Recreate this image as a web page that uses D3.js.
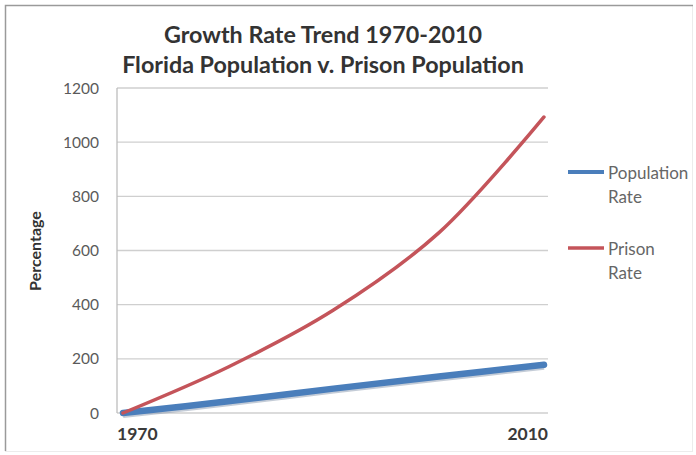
<!DOCTYPE html>
<html>
<head>
<meta charset="utf-8">
<script src="https://cdn.jsdelivr.net/npm/d3@7"></script>
<style>
  body { margin: 0; background: #fff; }
  svg { display: block; }
</style>
</head>
<body>
<div class="graph-container"></div>
<script>
// Data
const years = [1970, 1980, 1990, 2000, 2010];
const populationRate = [0, 43, 90, 135, 178];
const prisonRate = [0, 170, 380, 665, 1093];
const yTicks = [0, 200, 400, 600, 800, 1000, 1200];
const xLabels = ['1970', '2010'];
const titleLines = ['Growth Rate Trend 1970-2010', 'Florida Population v. Prison Population'];

const W = 696, H = 455;
const font = 'Lato, "Open Sans", sans-serif';
const svg = d3.select('.graph-container')
    .append('svg')
    .attr('width', W)
    .attr('height', H);

// Chart frame
svg.append('rect')
    .attr('x', 5.5).attr('y', 5.5)
    .attr('width', 687).attr('height', 446)
    .attr('fill', '#fff')
    .attr('stroke', '#ececec');
svg.append('path')
    .attr('d', 'M5.5,451 V5.5 H693')
    .attr('fill', 'none')
    .attr('stroke', '#9a9a9a')
    .attr('stroke-width', 1.5);

// Scales
const plotLeft = 117, plotRight = 548;
const x = d3.scaleLinear().domain([1970, 2010]).range([123, 544]);
const y = d3.scaleLinear().domain([0, 1200]).range([413, 88]);

// Gridlines
svg.append('g')
    .selectAll('line')
    .data(yTicks)
    .join('line')
    .attr('x1', plotLeft).attr('x2', plotRight)
    .attr('y1', d => y(d)).attr('y2', d => y(d))
    .attr('stroke', '#cfcfcf')
    .attr('stroke-width', 1.3);

// Y axis line
svg.append('line')
    .attr('x1', plotLeft).attr('x2', plotLeft)
    .attr('y1', y(1200)).attr('y2', y(0))
    .attr('stroke', '#bdbdbd')
    .attr('stroke-width', 1.3);

// Y tick labels
svg.append('g')
    .selectAll('text')
    .data(yTicks)
    .join('text')
    .attr('x', 99)
    .attr('y', d => y(d) + 5.5)
    .attr('text-anchor', 'end')
    .attr('font-family', font)
    .attr('font-size', 15.5)
    .attr('fill', '#5a5a5a')
    .text(d => d);

// Y axis title
svg.append('text')
    .attr('transform', 'translate(41,251) rotate(-90)')
    .attr('text-anchor', 'middle')
    .attr('font-family', font)
    .attr('font-weight', 'bold')
    .attr('font-size', 16)
    .attr('fill', '#333')
    .text('Percentage');

// X labels at both ends of the axis
svg.append('g')
    .selectAll('text')
    .data(xLabels)
    .join('text')
    .attr('x', (d, i) => i === 0 ? plotLeft : plotRight)
    .attr('y', 440)
    .attr('text-anchor', (d, i) => i === 0 ? 'start' : 'end')
    .attr('font-family', font)
    .attr('font-weight', 'bold')
    .attr('font-size', 17.5)
    .attr('fill', '#3a3a3a')
    .text(d => d);

// Title
svg.append('g')
    .selectAll('text')
    .data(titleLines)
    .join('text')
    .attr('x', 323)
    .attr('y', (d, i) => 43 + i * 30)
    .attr('text-anchor', 'middle')
    .attr('font-family', font)
    .attr('font-weight', 'bold')
    .attr('font-size', 23.3)
    .attr('fill', '#333')
    .text(d => d);

// Lines
const line = d3.line()
    .x((d, i) => x(years[i]))
    .y(d => y(d))
    .curve(d3.curveCatmullRom.alpha(0.5));

svg.append('path')
    .datum(populationRate)
    .attr('fill', 'none')
    .attr('stroke', '#8a9ab0')
    .attr('stroke-opacity', 0.5)
    .attr('stroke-width', 7)
    .attr('transform', 'translate(0,1.5)')
    .attr('d', line);
svg.append('path')
    .datum(populationRate)
    .attr('fill', 'none')
    .attr('stroke', '#4a7ebb')
    .attr('stroke-width', 6.5)
    .attr('stroke-linecap', 'round')
    .attr('d', line);

svg.append('path')
    .datum(prisonRate)
    .attr('fill', 'none')
    .attr('stroke', '#c4545a')
    .attr('stroke-width', 3.5)
    .attr('stroke-linecap', 'round')
    .attr('d', line);

// Legend
const legend = [
    { name: ['Population', 'Rate'], color: '#4a7ebb', width: 4, y: 172 },
    { name: ['Prison', 'Rate'], color: '#c4545a', width: 3.5, y: 248 }
];
const lg = svg.append('g')
    .selectAll('g')
    .data(legend)
    .join('g');
lg.append('line')
    .attr('x1', 568).attr('x2', 604)
    .attr('y1', d => d.y).attr('y2', d => d.y)
    .attr('stroke', d => d.color)
    .attr('stroke-width', d => d.width);
lg.append('text')
    .attr('font-family', font)
    .attr('font-size', 17)
    .attr('fill', '#666')
    .selectAll('tspan')
    .data(d => d.name.map((t, i) => ({ t, i, y: d.y })))
    .join('tspan')
    .attr('x', 608)
    .attr('y', d => d.y + 6.5 + d.i * 24)
    .text(d => d.t);
</script>
</body>
</html>
